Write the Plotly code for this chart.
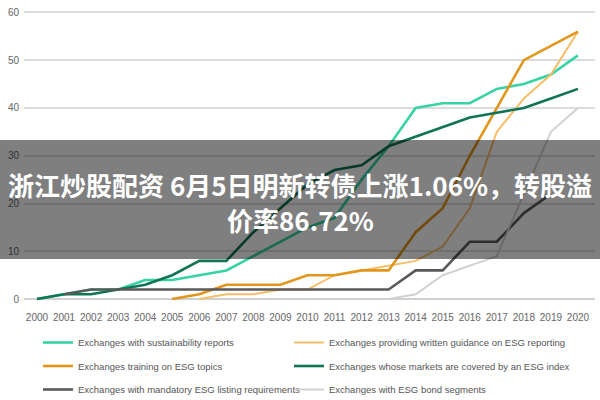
import plotly.graph_objects as go

years = list(range(2000, 2021))
sustainability = [0, 1, 2, 2, 4, 4, 5, 6, 9, 12, 15, 17, 25, 32, 40, 41, 41, 44, 45, 47, 51]
guidance = [None, None, None, None, None, None, 0, 1, 1, 2, 2, 5, 6, 7, 8, 11, 19, 35, 42, 47, 56]
training = [None, None, None, None, None, 0, 1, 3, 3, 3, 5, 5, 6, 6, 14, 19, 30, 40, 50, 53, 56]
esg_index = [0, 1, 1, 2, 3, 5, 8, 8, 14, 19, 24, 27, 28, 32, 34, 36, 38, 39, 40, 42, 44]
mandatory = [None, 1, 2, 2, 2, 2, 2, 2, 2, 2, 2, 2, 2, 2, 6, 6, 12, 12, 18, 22, None]
bonds = [None] * 13 + [0, 1, 5, 7, 9, 22, 35, 40]

series = [
    ("Exchanges with sustainability reports", sustainability, "#38D3A4", 2.6, "legend"),
    ("Exchanges providing written guidance on ESG reporting", guidance, "#F7BE6A", 2.0, "legend2"),
    ("Exchanges training on ESG topics", training, "#E3961C", 2.6, "legend"),
    ("Exchanges whose markets are covered by an ESG index", esg_index, "#0F7455", 2.6, "legend2"),
    ("Exchanges with mandatory ESG listing requirements", mandatory, "#5A5A5A", 2.6, "legend"),
    ("Exchanges with ESG bond segments", bonds, "#D2D2D2", 2.0, "legend2"),
]

title_line1 = "浙江炒股配资 6月5日明新转债上涨1.06%，转股溢"
title_line2 = "价率86.72%"

W, H = 600, 400
ML, MR, MT, MB = 24, 5, 11, 99
PH = H - MT - MB


def py(pix):
    """pixel row -> paper y"""
    return (H - MB - pix) / PH


def px(pix):
    return (pix - ML) / (W - ML - MR)


def cy(pix):
    return 1 - pix / H


def cx(pix):
    return pix / W


fig = go.Figure()
for i, (name, vals, color, width, leg) in enumerate(series):
    fig.add_trace(go.Scatter(
        x=years, y=vals, mode="lines", name=name,
        line=dict(color=color, width=width),
        legend=leg, legendgroup=f"g{i}",
    ))

narrow = "Liberation Sans Narrow, Arial Narrow, Liberation Sans, sans-serif"
legend_font = dict(family=narrow, size=9.5, color="#555555")

fig.update_layout(
    width=W, height=H,
    margin=dict(l=ML, r=MR, t=MT, b=MB, autoexpand=False),
    paper_bgcolor="white", plot_bgcolor="white",
    showlegend=True,
    legend=dict(x=cx(38), y=cy(328), xref="container", yref="container",
                xanchor="left", yanchor="top",
                orientation="v", font=legend_font, tracegroupgap=4.5,
                bgcolor="rgba(0,0,0,0)"),
    legend2=dict(x=cx(289), y=cy(328), xref="container", yref="container",
                 xanchor="left", yanchor="top",
                 orientation="v", font=legend_font, tracegroupgap=4.5,
                 bgcolor="rgba(0,0,0,0)"),
    xaxis=dict(range=[1999.52, 2020.63], tickmode="array", tickvals=years,
               ticktext=[str(y) for y in years], showgrid=False, zeroline=False,
               showline=False, ticks="", ticklabelstandoff=9,
               tickfont=dict(family=narrow, size=10, color="#666666")),
    yaxis=dict(range=[-0.4, 60.3], tickvals=[0, 10, 20, 30, 40, 50, 60],
               showgrid=True, gridcolor="#DCDCDC", gridwidth=1.5,
               zeroline=True, zerolinecolor="#D0D0D0", zerolinewidth=1.5,
               showline=False, ticks="", ticklabelstandoff=4,
               tickfont=dict(family=narrow, size=10, color="#666666")),
    shapes=[dict(type="rect", xref="paper", yref="paper",
                 x0=px(0), x1=px(600), y0=py(259), y1=py(140),
                 fillcolor="rgba(0,0,0,0.5)", line=dict(width=0), layer="above")],
    annotations=[
        dict(text=title_line1, xref="paper", yref="paper", x=px(300), y=py(184),
             xanchor="center", yanchor="middle", showarrow=False,
             font=dict(family="Noto Sans CJK SC", size=26, color="white", weight="bold")),
        dict(text=title_line2, xref="paper", yref="paper", x=px(300), y=py(219),
             xanchor="center", yanchor="middle", showarrow=False,
             font=dict(family="Noto Sans CJK SC", size=26, color="white", weight="bold")),
    ],
)

fig.write_html("out.html")
